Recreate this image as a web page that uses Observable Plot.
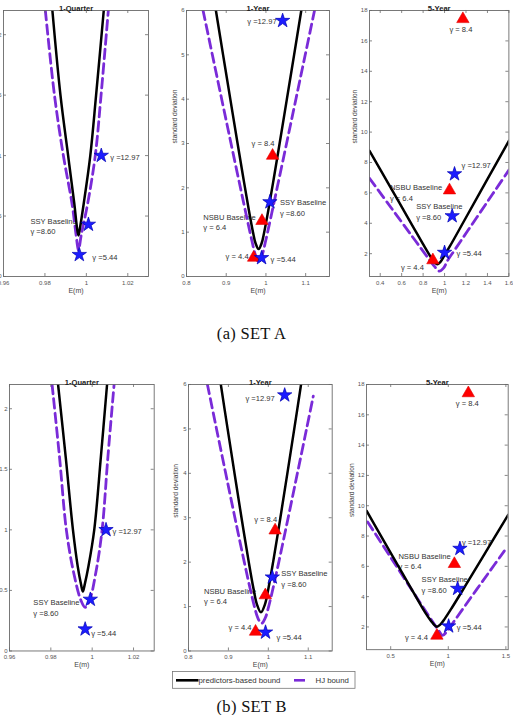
<!DOCTYPE html>
<html>
<head>
<meta charset="utf-8">
<script src="https://cdn.jsdelivr.net/npm/d3@7"></script>
<script src="https://cdn.jsdelivr.net/npm/@observablehq/plot@0.6"></script>
<style>
  html, body { margin: 0; padding: 0; background: #fff; overflow: hidden; }
  #fig { position: relative; width: 513px; height: 715px; overflow: hidden; background: #fff;
         font-family: "Liberation Sans", Arial, sans-serif; }
  .caption { position: absolute; transform: translate(-50%, -50%); white-space: nowrap;
             font-family: "Liberation Serif", "DejaVu Serif", serif; font-size: 16.5px; color: #111; letter-spacing: 0.3px; }
  #legend { position: absolute; }
</style>
</head>
<body>
<div id="fig"></div>
<script>
// ---------- data ----------
const setNames = ["SET A", "SET B"];
const setTags = ["(a)", "(b)"];
const horizons = ["1-Quarter", "1-Year", "5-Year"];
const seriesNames = ["predictors-based bound", "HJ bound"];
const yLabel = "standard deviation";
const xLabel = "E(m)";

// risk-aversion levels attached to the two baseline models
const ssyGammas = ["5.44", "8.60", "12.97"];
const nsbuGammas = ["4.4", "6.4", "8.4"];
const ssyName = "SSY Baseline";
const nsbuName = "NSBU Baseline";

// tick values
const quarterXTicks = [0.96, 0.98, 1, 1.02];
const quarterYTicks = [0, 0.5, 1, 1.5, 2];
const yearXTicks = [0.8, 0.9, 1, 1.1];
const yearYTicks = [0, 1, 2, 3, 4, 5, 6];
const fiveYearXTicksA = [0.4, 0.6, 0.8, 1, 1.2, 1.4, 1.6];
const fiveYearXTicksB = [0.5, 1, 1.5];
const fiveYearYTicks = [2, 4, 6, 8, 10, 12, 14, 16, 18];

// axis ranges
const quarterXDomain = [0.96, 1.03], quarterYDomain = [0, 2.2];
const yearXDomain = [0.8, 1.16], yearYDomain = [0, 6];
const fiveYearXDomainA = [0.3, 1.6], fiveYearXDomainB = [0.29, 1.52], fiveYearYDomain = [0.5, 18];

// bounds: [E(m), standard deviation]
const boundAQuarter = [[0.9836,2.2],[0.9875,1.5],[0.9912,1.0],[0.9942,0.6],[0.9955,0.40],[0.9962,0.34],[0.9969,0.40],[0.9987,0.6],[1.0019,1.0],[1.0047,1.5],[1.0084,2.2]];
const hjAQuarter    = [[0.9802,2.2],[0.9846,1.5],[0.9889,1.0],[0.9931,0.6],[0.9950,0.35],[0.9962,0.22],[0.9976,0.35],[1.0006,0.6],[1.0043,1.0],[1.0071,1.5],[1.0106,2.2]];
const boundAYear = [[0.874,6],[0.8921,5],[0.9103,4],[0.9286,3],[0.9435,2.2],[0.9569,1.5],[0.9674,1.0],[0.9739,0.75],[0.9815,0.62],[0.9891,0.75],[0.9956,1.0],[1.0061,1.5],[1.0195,2.2],[1.0344,3],[1.0527,4],[1.0709,5],[1.089,6]];
const hjAYear    = [[0.8417,6],[0.8651,5],[0.8886,4],[0.9121,3],[0.9358,2],[0.9525,1.3],[0.9648,0.8],[0.973,0.5],[0.982,0.32],[0.991,0.5],[0.9992,0.8],[1.0115,1.3],[1.0282,2],[1.0519,3],[1.0754,4],[1.0989,5],[1.1223,6]];
const boundAFive = [[0.3,8.77],[0.5,6.31],[0.7,3.85],[0.82,2.38],[0.87,1.8],[0.90,1.5],[0.932,1.3],[0.96,1.45],[1.0,1.9],[1.05,2.49],[1.2,4.38],[1.4,6.9],[1.6,9.42]];
const hjAFive    = [[0.3,6.96],[0.5,5.04],[0.7,3.12],[0.85,1.68],[0.91,1.13],[0.95,0.85],[0.99,1.05],[1.03,1.57],[1.1,2.30],[1.3,4.38],[1.45,5.94],[1.6,7.5]];

const boundBQuarter = [[0.9835,2.2],[0.9872,1.6],[0.9907,1.0],[0.9930,0.7],[0.9946,0.55],[0.9955,0.49],[0.9964,0.55],[0.9982,0.7],[1.0010,1.0],[1.0042,1.6],[1.0072,2.2]];
const hjBQuarter    = [[0.9806,2.2],[0.9842,1.6],[0.9875,1.0],[0.9910,0.65],[0.9945,0.42],[0.9966,0.36],[0.9988,0.42],[1.0018,0.65],[1.0048,1.0],[1.0076,1.6],[1.0106,2.2]];
const boundBYear = [[0.881,6],[0.898,5],[0.9153,4],[0.9328,3],[0.951,2],[0.9629,1.4],[0.9715,1.05],[0.9815,0.87],[0.9915,1.05],[1.0001,1.4],[1.012,2],[1.0302,3],[1.0477,4],[1.065,5],[1.082,6]];
const hjBYear    = [[0.8474,6],[0.8702,5],[0.8932,4],[0.9163,3],[0.9398,2],[0.9545,1.4],[0.9652,1.0],[0.9734,0.75],[0.983,0.62],[0.9926,0.75],[1.0008,1.0],[1.0115,1.4],[1.0262,2],[1.0497,3],[1.0728,4],[1.0958,5],[1.1127,5.74]];
const boundBFive = [[0.29,9.67],[0.45,7.55],[0.6,5.57],[0.7,4.25],[0.8,2.95],[0.85,2.4],[0.88,2.12],[0.901,2.02],[0.93,2.15],[0.97,2.55],[1.03,3.25],[1.15,4.74],[1.3,6.63],[1.52,9.4]];
const hjBFive    = [[0.30,8.93],[0.5,6.59],[0.7,4.25],[0.85,2.5],[0.91,1.84],[0.95,1.45],[0.99,1.72],[1.05,2.37],[1.2,3.98],[1.35,5.57],[1.487,7.02]];

// model points for gamma levels in the order given above: [E(m), standard deviation]
const ssyAQuarter = [[0.9966,0.18],[1.001,0.43],[1.0072,1.0]];
const ssyAYear    = [[0.989,0.42],[1.010,1.68],[1.042,5.77]];
const ssyAFive    = [[1.0,2.07],[1.071,4.48],[1.093,7.24]];
const ssyBQuarter = [[0.9966,0.18],[0.9991,0.425],[1.0067,1.0]];
const ssyBYear    = [[0.993,0.42],[1.010,1.66],[1.041,5.76]];
const ssyBFive    = [[1.003,2.05],[1.081,4.53],[1.101,7.17]];
const nsbuAYear = [[0.969,0.47],[0.990,1.30],[1.0167,2.77]];
const nsbuAFive = [[0.891,1.7],[1.046,6.3],[1.171,17.57]];
const nsbuBYear = [[0.968,0.48],[0.9925,1.30],[1.017,2.76]];
const nsbuBFive = [[0.901,1.56],[1.053,6.29],[1.174,17.56]];

// ---------- layout ----------
const HJ_COLOR = "#7a2bd8";
const AXIS = "#6a6a6a";
const fmt = d => String(d);

// annotation placement next to each marker: [dx, dy, textAnchor]
const ssyLabelLayout = {
  AQ: [[13,2,"start"],[-58,1,"start"],[9,1,"start"]],
  AY: [[9,1,"start"],[10,5,"start"],[-6,0,"end"]],
  AF: [[12,0,"start"],[-36,-5,"start"],[7,-9,"start"]],
  BQ: [[6,3,"start"],[-57,7.5,"start"],[6.5,1,"start"]],
  BY: [[11,4,"start"],[9,1,"start"],[-10,2,"end"]],
  BF: [[8,0,"start"],[-36,-4.5,"start"],[2,-7,"start"]]
};
const nsbuLabelLayout = {
  AY: [[-5,0,"end"],[-58.7,3,"start"],[2,-11,"end"]],
  AF: [[-9,8,"end"],[-59.6,4,"start"],[-2,12,"middle"]],
  BY: [[-4,-3,"end"],[-61.3,2.6,"start"],[2,-10,"end"]],
  BF: [[-9,3,"end"],[-56,-1.4,"start"],[-1,11,"middle"]]
};

const ssyTexts = ssyGammas.map((g, i) => i === 1 ? `${ssyName}\nγ =${g}` : `γ =${g}`);
const nsbuTexts = nsbuGammas.map((g, i) => i === 1 ? `${nsbuName}\nγ = ${g}` : `γ = ${g}`);

const panels = [
  {key:"AQ", title:horizons[0], frame:[3,10,148,276], xDomain:quarterXDomain, yDomain:quarterYDomain, xTicks:quarterXTicks, yTicks:quarterYTicks, bound:boundAQuarter, hj:hjAQuarter, ssy:ssyAQuarter, nsbu:null, ylabelDx:-13, xlabelDy:16.5},
  {key:"AY", title:horizons[1], frame:[186,10,329,276], xDomain:yearXDomain, yDomain:yearYDomain, xTicks:yearXTicks, yTicks:yearYTicks, bound:boundAYear, hj:hjAYear, ssy:ssyAYear, nsbu:nsbuAYear, ylabelDx:-11.7, xlabelDy:16.5},
  {key:"AF", title:horizons[2], frame:[369.3,10,508.7,276], xDomain:fiveYearXDomainA, yDomain:fiveYearYDomain, xTicks:fiveYearXTicksA, yTicks:fiveYearYTicks, bound:boundAFive, hj:hjAFive, ssy:ssyAFive, nsbu:nsbuAFive, ylabelDx:-15, xlabelDy:16.5},
  {key:"BQ", title:horizons[0], frame:[9.3,383.5,154,650], xDomain:quarterXDomain, yDomain:quarterYDomain, xTicks:quarterXTicks, yTicks:quarterYTicks, bound:boundBQuarter, hj:hjBQuarter, ssy:ssyBQuarter, nsbu:null, ylabelDx:-15, xlabelDy:16},
  {key:"BY", title:horizons[1], frame:[188.3,383.5,332,650], xDomain:yearXDomain, yDomain:yearYDomain, xTicks:yearXTicks, yTicks:yearYTicks, bound:boundBYear, hj:hjBYear, ssy:ssyBYear, nsbu:nsbuBYear, ylabelDx:-12.3, xlabelDy:16},
  {key:"BF", title:horizons[2], frame:[366,384.3,507.7,649.5], xDomain:fiveYearXDomainB, yDomain:fiveYearYDomain, xTicks:fiveYearXTicksB, yTicks:fiveYearYTicks, bound:boundBFive, hj:hjBFive, ssy:ssyBFive, nsbu:nsbuBFive, ylabelDx:-15, xlabelDy:16}
];

const fig = document.getElementById("fig");

function labelMarks(points, texts, layout) {
  return points.map((p, i) => {
    const [dx, dy, anchor] = layout[i];
    return Plot.text([p], {
      x: d => d[0], y: d => d[1], text: () => texts[i],
      dx, dy, textAnchor: anchor, lineAnchor: "middle", lineHeight: 1.38,
      fontSize: 7.6, fill: "#333"
    });
  });
}

function drawPanel(cfg) {
  const [l, t, r, b] = cfg.frame;
  const mL = 34, mR = 8, mT = 16, mB = 26;
  const W = r - l, H = b - t;
  const tickLen = 3;
  const xy = {x: d => d[0], y: d => d[1]};
  const marks = [];

  // annotations sit beneath the curves
  marks.push(...labelMarks(cfg.ssy, ssyTexts, ssyLabelLayout[cfg.key]));
  if (cfg.nsbu) marks.push(...labelMarks(cfg.nsbu, nsbuTexts, nsbuLabelLayout[cfg.key]));

  marks.push(
    Plot.line(cfg.hj, {...xy, stroke: HJ_COLOR, strokeWidth: 2.8, strokeDasharray: "9.5,5", curve: "catmull-rom", clip: true}),
    Plot.line(cfg.bound, {...xy, stroke: "#000", strokeWidth: 2.5, curve: "catmull-rom", clip: true})
  );
  if (cfg.nsbu) {
    marks.push(Plot.dot(cfg.nsbu, {...xy, symbol: "triangle", r: 4.6, fill: "#ff0000", stroke: "#e00000", strokeWidth: 0.6, dy: 2}));
  }
  marks.push(Plot.dot(cfg.ssy, {...xy, symbol: "star", r: 4.5, fill: "#1c1cff", stroke: "#0000b4", strokeWidth: 0.7}));

  // box with inward ticks on all four sides
  const tickStyle = {stroke: AXIS, strokeWidth: 0.8};
  marks.push(
    Plot.frame({stroke: AXIS, strokeWidth: 0.9}),
    Plot.tickY(cfg.yTicks, {y: d => d, ...tickStyle, insetRight: W - tickLen}),
    Plot.tickY(cfg.yTicks, {y: d => d, ...tickStyle, insetLeft: W - tickLen}),
    Plot.tickX(cfg.xTicks, {x: d => d, ...tickStyle, insetTop: H - tickLen}),
    Plot.tickX(cfg.xTicks, {x: d => d, ...tickStyle, insetBottom: H - tickLen}),
    Plot.axisX({ticks: cfg.xTicks, tickFormat: fmt, tickSize: 0, tickPadding: 4, fontSize: 6, fill: "#555", label: null}),
    Plot.axisY({ticks: cfg.yTicks, tickFormat: fmt, tickSize: 0, tickPadding: 2, fontSize: 6, fill: "#555", label: null}),
    Plot.text([cfg.title], {frameAnchor: "top", dy: -5, fontWeight: "bold", fontSize: 7.6, fill: "#222"}),
    Plot.text([xLabel], {frameAnchor: "bottom", dy: cfg.xlabelDy, fontSize: 7, fill: "#444"}),
    Plot.text([yLabel], {frameAnchor: "left", rotate: -90, dx: cfg.ylabelDx, fontSize: 6.6, fill: "#444"})
  );

  const svg = Plot.plot({
    width: W + mL + mR, height: H + mT + mB,
    marginLeft: mL, marginRight: mR, marginTop: mT, marginBottom: mB,
    x: {domain: cfg.xDomain, ticks: cfg.xTicks},
    y: {domain: cfg.yDomain, ticks: cfg.yTicks},
    style: {fontFamily: "'Liberation Sans', Arial, sans-serif", background: "transparent", overflow: "visible"},
    marks
  });
  svg.style.position = "absolute";
  svg.style.left = (l - mL) + "px";
  svg.style.top = (t - mT) + "px";
  fig.appendChild(svg);
}

panels.forEach(drawPanel);

// captions under each row
const captionPos = [[251.5, 334], [251.7, 707]];
setNames.forEach((name, i) => {
  const c = document.createElement("div");
  c.className = "caption";
  c.textContent = `${setTags[i]} ${name}`;
  c.style.left = captionPos[i][0] + "px";
  c.style.top = captionPos[i][1] + "px";
  fig.appendChild(c);
});

// legend box beneath the second row
const lg = d3.select(fig).append("svg").attr("id", "legend")
  .attr("width", 184).attr("height", 18)
  .style("left", "172px").style("top", "670.5px");
lg.append("rect").attr("x", 0.5).attr("y", 0.5).attr("width", 182.5).attr("height", 16.8)
  .attr("fill", "#fff").attr("stroke", "#777").attr("stroke-width", 0.8);
const legendItems = [
  {name: seriesNames[0], color: "#000", x1: 4, x2: 26.5, tx: 26.5},
  {name: seriesNames[1], color: HJ_COLOR, x1: 122, x2: 133, tx: 143.5}
];
legendItems.forEach(it => {
  lg.append("line").attr("x1", it.x1).attr("x2", it.x2).attr("y1", 9.3).attr("y2", 9.3)
    .attr("stroke", it.color).attr("stroke-width", 2.6);
  lg.append("text").attr("x", it.tx).attr("y", 9.3).attr("dy", "0.35em")
    .attr("font-size", 7.8).attr("fill", "#333")
    .attr("font-family", "'Liberation Sans', Arial, sans-serif").text(it.name);
});
</script>
</body>
</html>
